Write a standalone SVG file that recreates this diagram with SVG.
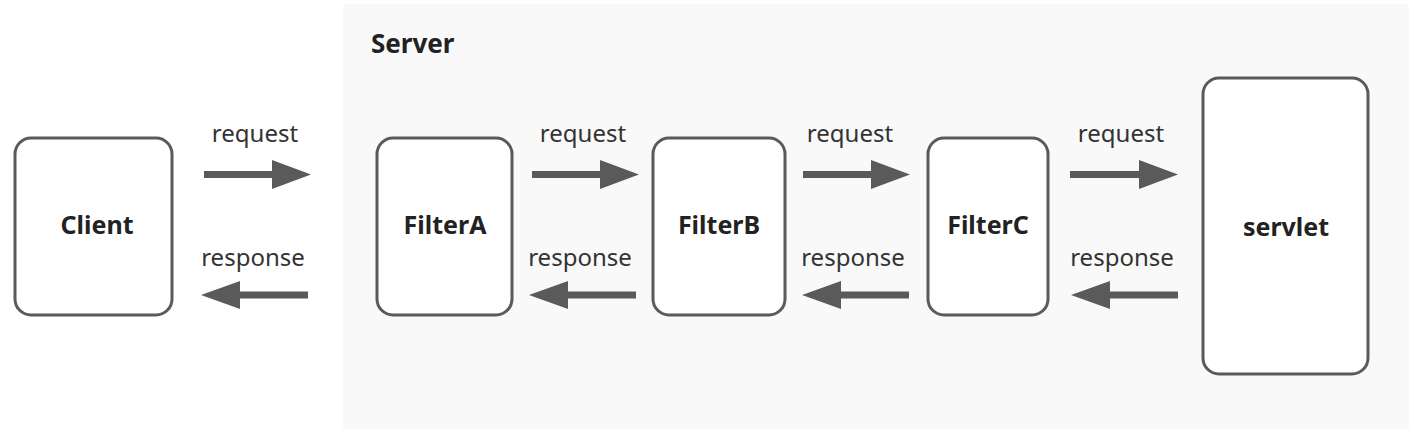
<svg xmlns="http://www.w3.org/2000/svg" width="1422" height="434" viewBox="0 0 1422 434">
<defs>
<style>
.node rect{fill:#fff;stroke:#5a5a5a;stroke-width:3}
.label{font-family:"Noto Sans","Open Sans","Liberation Sans",sans-serif;font-weight:bold;font-size:25px;fill:#222;text-anchor:middle}
.edge-label{font-family:"Noto Sans","Open Sans","Liberation Sans",sans-serif;font-size:24px;fill:#333;text-anchor:middle}
.arrow{fill:#5a5a5a}
</style>
</defs>
<rect id="server" x="343" y="4" width="1066" height="425" fill="#f9f9f9"/>
<text x="371" y="53" class="label" style="text-anchor:start;font-size:26px">Server</text>
<g id="client" class="node"><rect x="15" y="138" width="157" height="177" rx="16"/><text x="97" y="234" class="label">Client</text></g>
<g id="filterA" class="node"><rect x="377" y="138" width="135" height="177" rx="16"/><text x="445" y="234" class="label">FilterA</text></g>
<g id="filterB" class="node"><rect x="653" y="138" width="132" height="177" rx="16"/><text x="719" y="234" class="label">FilterB</text></g>
<g id="filterC" class="node"><rect x="928" y="138" width="120" height="177" rx="16"/><text x="988" y="234" class="label">FilterC</text></g>
<g id="servlet" class="node"><rect x="1203" y="78" width="165" height="296" rx="16"/><text x="1286" y="236" class="label">servlet</text></g>
<g id="connectors">
<path class="arrow" d="M204 171H272V160L311 174.5L272 189V178H204Z"/>
<path class="arrow" d="M532 171H600V160L639 174.5L600 189V178H532Z"/>
<path class="arrow" d="M803 171H871V160L910 174.5L871 189V178H803Z"/>
<path class="arrow" d="M1070 171H1139V160L1178 174.5L1139 189V178H1070Z"/>
<path class="arrow" d="M308 291.5H240V281L201 295L240 309V298.5H308Z"/>
<path class="arrow" d="M636 291.5H568V281L529 295L568 309V298.5H636Z"/>
<path class="arrow" d="M909 291.5H841V281L802 295L841 309V298.5H909Z"/>
<path class="arrow" d="M1178 291.5H1110V281L1071 295L1110 309V298.5H1178Z"/>
<text x="255" y="142" class="edge-label">request</text>
<text x="583" y="142" class="edge-label">request</text>
<text x="850" y="142" class="edge-label">request</text>
<text x="1121" y="142" class="edge-label">request</text>
<text x="253" y="266" class="edge-label">response</text>
<text x="580" y="266" class="edge-label">response</text>
<text x="853" y="266" class="edge-label">response</text>
<text x="1122" y="266" class="edge-label">response</text>
</g>
</svg>
